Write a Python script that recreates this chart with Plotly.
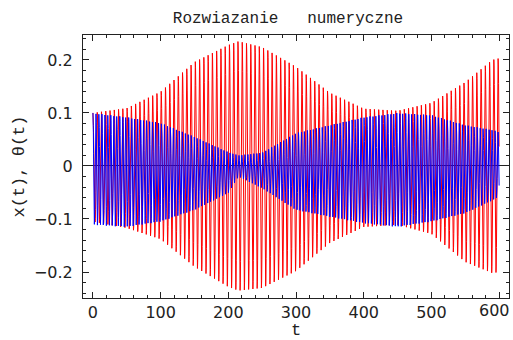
import numpy as np
import plotly.graph_objects as go

# Envelope knots (time, upper and lower amplitude) of the two coordinates
t_knots = [0, 50, 100, 150, 200, 215, 250, 300, 350, 400, 450, 500, 550, 590, 600]
x_upper = [0.100, 0.109, 0.140, 0.196, 0.228, 0.235, 0.224, 0.187, 0.138, 0.108, 0.104, 0.119, 0.158, 0.200, 0.203]
x_lower = [-0.105, -0.117, -0.138, -0.190, -0.228, -0.235, -0.230, -0.198, -0.145, -0.115, -0.111, -0.128, -0.181, -0.202, -0.200]
th_upper = [0.100, 0.092, 0.081, 0.055, 0.026, 0.020, 0.025, 0.062, 0.077, 0.092, 0.100, 0.096, 0.077, 0.068, 0.064]
th_lower = [-0.111, -0.115, -0.105, -0.083, -0.051, -0.020, -0.042, -0.083, -0.096, -0.108, -0.115, -0.105, -0.089, -0.065, -0.058]

# Oscillation periods of x(t) and theta(t)
period_x = 6.3
period_th = 4.4

x_ticks = [0, 100, 200, 300, 400, 500, 600]
x_tick_text = ["0", "100", "200", "300", "400", "500", ""]
last_x_label = "600"  # placed separately so it stays inside the page edge
y_ticks = [-0.2, -0.1, 0, 0.1, 0.2]
y_tick_text = ["\u22120.2", "\u22120.1", "0", "0.1", "0.2"]

TICK_FONT = dict(family="DejaVu Sans", size=16, color="#222222")


def signal(t, upper, lower, period):
    up = np.interp(t, t_knots, upper)
    lo = np.interp(t, t_knots, lower)
    mid = (up + lo) / 2
    half = (up - lo) / 2
    return mid + half * np.cos(2 * np.pi * t / period)


t_x = np.arange(0, 600.001, 0.35)
t_th = np.arange(0, 600.001, 0.3)
x_t = signal(t_x, x_upper, x_lower, period_x)
th_t = signal(t_th, th_upper, th_lower, period_th)

fig = go.Figure()
fig.add_trace(go.Scatter(x=t_x, y=x_t, mode="lines", line=dict(color="#ff0000", width=1), hoverinfo="skip"))
fig.add_trace(go.Scatter(x=t_th, y=th_t, mode="lines", line=dict(color="#0000ff", width=1), hoverinfo="skip"))

axis_common = dict(
    showgrid=False,
    showline=True,
    linecolor="#222222",
    linewidth=1,
    mirror="allticks",
    ticks="inside",
    ticklen=6,
    tickcolor="#222222",
    automargin=False,
    tickfont=TICK_FONT,
)

fig.add_annotation(
    x=x_ticks[-1], xref="x", y=0, yref="paper",
    text=last_x_label, showarrow=False,
    xanchor="center", yanchor="top", xshift=-5, yshift=-1,
    font=TICK_FONT,
)

fig.update_layout(
    width=513,
    height=340,
    margin=dict(l=83, r=4, t=35, b=42),
    paper_bgcolor="white",
    plot_bgcolor="white",
    showlegend=False,
    title=dict(
        text="Rozwiazanie\u00a0\u00a0\u00a0numeryczne",
        font=dict(family="Liberation Mono", size=16, color="#222222"),
        x=288 / 513,
        xanchor="center",
        y=1 - 17 / 340,
        yanchor="middle",
    ),
    xaxis=dict(
        axis_common,
        range=[-14.7, 614.6],
        tickvals=x_ticks,
        ticktext=x_tick_text,
        minor=dict(dtick=20, ticks="inside", ticklen=3, tickcolor="#222222"),
        zeroline=False,
        title=dict(text="t", font=dict(family="Liberation Mono", size=17, color="#222222"), standoff=0),
    ),
    yaxis=dict(
        axis_common,
        range=[-0.249, 0.247],
        tickvals=y_ticks,
        ticktext=y_tick_text,
        minor=dict(dtick=0.02, tick0=0, ticks="inside", ticklen=3, tickcolor="#222222"),
        zeroline=True,
        zerolinecolor="#222222",
        zerolinewidth=1,
        ticklabelstandoff=6,
        title=dict(text="x(t), \u03b8(t)", font=dict(family="Liberation Mono", size=17, color="#222222"), standoff=4),
    ),
)

fig.write_html("out.html")
